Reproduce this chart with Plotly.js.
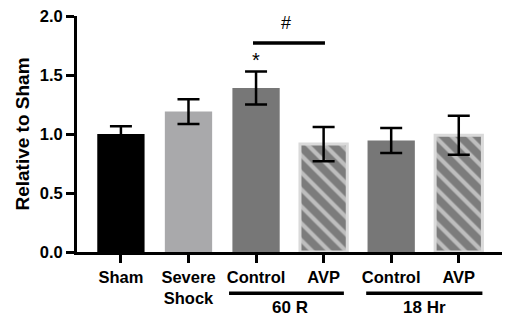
<!DOCTYPE html>
<html>
<head>
<meta charset="utf-8">
<script src="https://cdn.plot.ly/plotly-3.0.1.min.js"></script>
<style>html,body{margin:0;padding:0;background:#fff;}#chart{width:506px;height:318px;}</style>
</head>
<body>
<div id="chart"></div>
<script>
var categories = ['Sham', 'Severe<br>Shock', 'Control', 'AVP', 'Control', 'AVP'];
var positions = [0, 1, 2, 3, 4, 5];
var values = [1.0, 1.19, 1.39, 0.915, 0.945, 0.99];
var errors = [0.065, 0.105, 0.14, 0.145, 0.105, 0.165];
var barColors = ['#000000', '#a9a9ab', '#777777', '#7c7c7c', '#777777', '#7c7c7c'];
var patterns = ['', '', '', '\\', '', '\\'];
var borderColors = ['#000000', '#a9a9ab', '#777777', '#dadada', '#777777', '#dadada'];
var borderWidths = [0, 0, 0, 3, 0, 3];
var yTicks = [0, 0.5, 1.0, 1.5, 2.0];
var yTickText = ['0.0', '0.5', '1.0', '1.5', '2.0'];
var groups = ['60 R', '18 Hr'];
var groupStart = [1.6, 3.63];
var groupEnd = [3.3, 5.35];
var groupCenter = [2.5, 4.5];

var font = {family: 'Arial, Liberation Sans, sans-serif', color: '#000', weight: 'bold'};

var trace = {
  type: 'bar',
  x: positions,
  y: values,
  width: 0.7,
  marker: {
    color: barColors,
    line: {color: borderColors, width: borderWidths},
    pattern: {shape: patterns, fillmode: 'overlay', fgcolor: '#d4d4d4', size: 12, solidity: 0.35}
  },
  error_y: {type: 'data', array: errors, visible: true, color: '#000', thickness: 2.5, width: 11},
  hoverinfo: 'none'
};

var shapes = [];
var annotations = [];
for (var i = 0; i < groups.length; i++) {
  shapes.push({type: 'line', xref: 'x', yref: 'paper', x0: groupStart[i], x1: groupEnd[i], y0: -0.175, y1: -0.175,
    line: {color: '#000', width: 3.5}});
  annotations.push({xref: 'x', yref: 'paper', x: groupCenter[i], y: -0.235, text: groups[i], showarrow: false,
    font: Object.assign({}, font, {size: 17}), yanchor: 'middle'});
}
shapes.push({type: 'line', xref: 'x', yref: 'y', x0: 1.955, x1: 3.02, y0: 1.772, y1: 1.772, line: {color: '#000', width: 3.5}});
annotations.push({xref: 'x', yref: 'y', x: 2.44, y: 1.94, text: '#', showarrow: false,
  font: {family: 'Arial, Liberation Sans, sans-serif', color: '#000', size: 18}, yanchor: 'middle'});
annotations.push({xref: 'x', yref: 'y', x: 2.0, y: 1.63, text: '*', showarrow: false,
  font: {family: 'Arial, Liberation Sans, sans-serif', color: '#000', size: 20}, yanchor: 'middle'});

var layout = {
  width: 506, height: 318,
  margin: {l: 77, r: 4, t: 16, b: 65.5},
  paper_bgcolor: '#fff', plot_bgcolor: '#fff',
  showlegend: false,
  xaxis: {
    range: [-0.65, 5.64], tickmode: 'array', tickvals: positions, ticktext: categories,
    showline: true, linecolor: '#000', linewidth: 3, ticks: 'outside', ticklen: 8, tickwidth: 3, tickcolor: '#000',
    showgrid: false, zeroline: false, tickfont: Object.assign({}, font, {size: 16.5}), fixedrange: true
  },
  yaxis: {
    range: [0, 2.0], tickmode: 'array', tickvals: yTicks, ticktext: yTickText,
    showline: true, linecolor: '#000', linewidth: 3, ticks: 'outside', ticklen: 8, tickwidth: 3, tickcolor: '#000',
    showgrid: false, zeroline: false, tickfont: Object.assign({}, font, {size: 16.5}),
    title: {text: 'Relative to Sham', font: Object.assign({}, font, {size: 19}), standoff: 6}, fixedrange: true
  },
  shapes: shapes,
  annotations: annotations
};

Plotly.newPlot('chart', [trace], layout, {staticPlot: true, displayModeBar: false});
</script>
</body>
</html>
